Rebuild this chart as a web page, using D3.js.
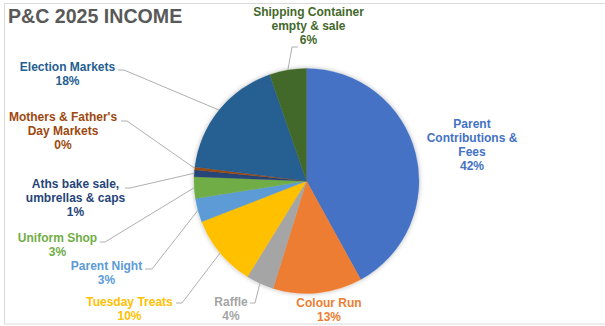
<!DOCTYPE html>
<html><head><meta charset="utf-8">
<script src="https://cdn.jsdelivr.net/npm/d3@7"></script>
<style>html,body{margin:0;padding:0;background:#fff;}svg{display:block;font-family:"Liberation Sans",Arial,sans-serif;}</style>
</head><body>
<script>
const categories = ["Parent Contributions & Fees","Colour Run","Raffle","Tuesday Treats","Parent Night","Uniform Shop","Aths bake sale, umbrellas & caps","Mothers & Father's Day Markets","Election Markets","Shipping Container empty & sale"];
const values = [42.0, 12.8, 4.0, 10.3, 3.4, 3.1, 1.0, 0.4, 17.7, 5.3];
const percentLabels = ["42%","13%","4%","10%","3%","3%","1%","0%","18%","6%"];
const colors = ["#4472C4","#ED7D31","#A5A5A5","#FFC000","#5B9BD5","#70AD47","#264478","#9E480E","#255E91","#43682B"];
const title = "P&C 2025 INCOME";

// label layout: text lines, centre x, first baseline, leader (elbow/end) points
const labelLines = [
  ["Parent","Contributions &","Fees"],["Colour Run"],["Raffle"],["Tuesday Treats"],["Parent Night"],
  ["Uniform Shop"],["Aths bake sale,","umbrellas & caps"],["Mothers & Father's","Day Markets"],
  ["Election Markets"],["Shipping Container","empty & sale"]
];
const labelPos = [
  {x:472,y:128},{x:329,y:307},{x:231,y:306},{x:129.5,y:306},{x:106.5,y:270},
  {x:57.5,y:242},{x:75.5,y:188},{x:63,y:121},{x:67.5,y:71},{x:308.5,y:16}
];
const leaders = [
  null,null,
  [[255,303],[250,303]],
  [[182,303],[176,303]],
  [[152,269],[145,269]],
  [[105,242],[100,242]],
  [[130,188],[125,188]],
  [[127,121],[121,121]],
  [[124,70],[118,70]],
  [[292,47],[298,47]]
];

const W=605,H=326, cx=306.5, cy=181, R=112.5;
const svg=d3.select("body").append("svg").attr("width",W).attr("height",H);
svg.append("rect").attr("x",4.5).attr("y",3.5).attr("width",620).attr("height",320.5)
  .attr("fill","#fff").attr("stroke","#d9d9d9").attr("stroke-width",1);

const defs=svg.append("defs");
const f=defs.append("filter").attr("id","sh").attr("x","-20%").attr("y","-20%").attr("width","140%").attr("height","140%");
f.append("feDropShadow").attr("dx",0).attr("dy",0).attr("stdDeviation",2.5).attr("flood-color","#000").attr("flood-opacity",0.28);

svg.append("text").attr("x",8).attr("y",23).attr("font-size",19.6).attr("font-weight","bold")
  .attr("fill","#595959").text(title);

const data = categories.map((c,i)=>({name:c,value:values[i],i}));
const pie=d3.pie().value(d=>d.value).sort(null).startAngle(0).endAngle(2*Math.PI);
const arcs=pie(data);
const arc=d3.arc().innerRadius(0).outerRadius(R);

const g=svg.append("g").attr("transform",`translate(${cx},${cy})`);
const pg=g.append("g").attr("filter","url(#sh)");
pg.selectAll("path").data(arcs).join("path").attr("d",arc).attr("fill",d=>colors[d.data.i])
  .attr("stroke",d=>colors[d.data.i]).attr("stroke-width",0.3);

// leader lines
arcs.forEach(a=>{
  const L=leaders[a.data.i]; if(!L) return;
  const m=(a.startAngle+a.endAngle)/2;
  const p=[cx+R*Math.sin(m), cy-R*Math.cos(m)];
  svg.append("polyline").attr("points",[p,...L].map(q=>q.join(",")).join(" "))
    .attr("fill","none").attr("stroke","#a6a6a6").attr("stroke-width",0.9);
});

// labels
arcs.forEach(a=>{
  const i=a.data.i, pos=labelPos[i];
  const lines=[...labelLines[i], percentLabels[i]];
  const t=svg.append("text").attr("text-anchor","middle").attr("font-size",12).attr("font-weight","bold")
    .attr("fill",colors[i]);
  lines.forEach((l,k)=>t.append("tspan").attr("x",pos.x).attr("y",pos.y+k*14).text(l));
});
</script>
</body></html>
